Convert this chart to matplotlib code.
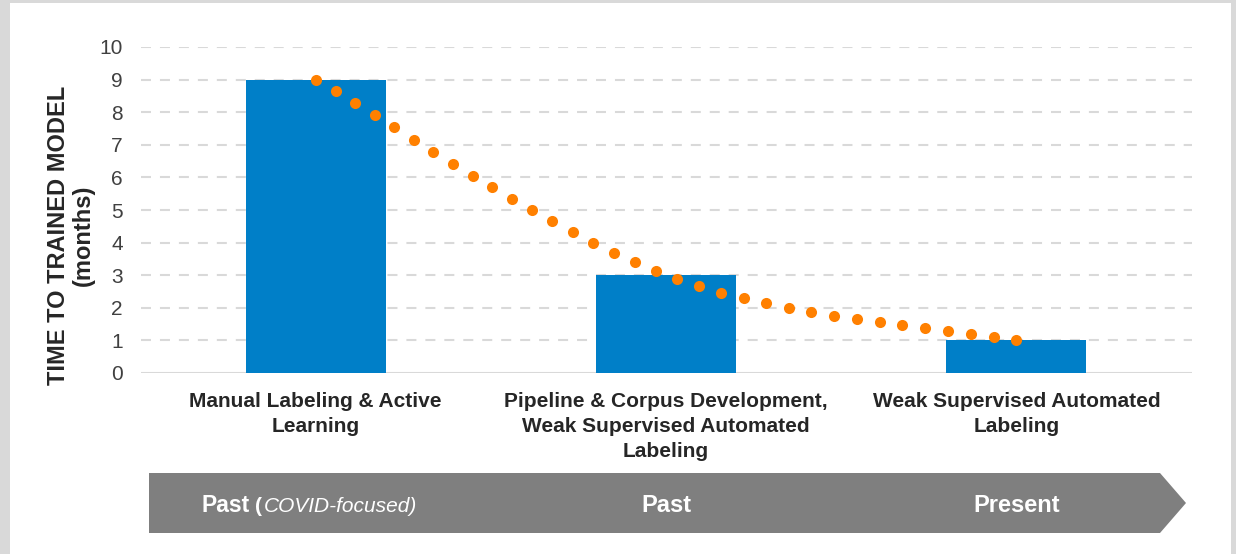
import numpy as np
import matplotlib.pyplot as plt
from matplotlib.patches import Polygon, Rectangle
from matplotlib.transforms import blended_transform_factory

plt.rcParams['font.family'] = ['Liberation Sans', 'DejaVu Sans']

stages = ["Manual Labeling & Active\nLearning",
          "Pipeline & Corpus Development,\nWeak Supervised Automated\nLabeling",
          "Weak Supervised Automated\nLabeling"]
months = [9, 3, 1]
eras = ["Past", "Past", "Present"]
era_note = "COVID-focused)"

W, H = 1236, 554
GRID = '#D9D9D9'


def smooth_line(xv, yv, steps=200):
    # Catmull-Rom style bezier through the points (Excel "smoothed line")
    P = np.column_stack([xv, yv]).astype(float)
    Pext = np.vstack([P[0], P, P[-1]])
    t = np.linspace(0, 1, steps)[:, None]
    out = []
    for i in range(len(P) - 1):
        p0, p3 = P[i], P[i + 1]
        c1 = p0 + (Pext[i + 2] - Pext[i]) / 6
        c2 = p3 - (Pext[i + 3] - Pext[i + 1]) / 6
        seg = ((1 - t) ** 3 * p0 + 3 * (1 - t) ** 2 * t * c1
               + 3 * (1 - t) * t ** 2 * c2 + t ** 3 * p3)
        out.append(seg if i == 0 else seg[1:])
    return np.vstack(out)


fig = plt.figure(figsize=(W / 100, H / 100), dpi=100, facecolor=GRID)
# white panel inside the grey frame
fig.patches.append(Rectangle((10 / W, 0), 1221 / W, 1 - 3 / H,
                             transform=fig.transFigure, facecolor='white',
                             edgecolor='none', zorder=0))
# timeline arrow below the categories
arrow = [(149, 473), (1160, 473), (1186, 503), (1160, 533), (149, 533)]
fig.patches.append(Polygon([(px / W, 1 - py / H) for px, py in arrow],
                           closed=True, transform=fig.transFigure,
                           facecolor='#7F7F7F', edgecolor='none', zorder=0.5))

ax = fig.add_axes([140.5 / W, 1 - 373 / H, 1051 / W, 326 / H])
ax.set_zorder(2)
ax.set_facecolor('none')
ax.set_xlim(-0.5, 2.5)
ax.set_ylim(0, 10)

x = np.arange(len(months))
ax.bar(x, months, width=0.4, color='#007FC8', zorder=2)

# round dots spaced evenly along the smoothed line, in screen distance
curve = smooth_line(x, months)
disp = ax.transData.transform(curve)
arc = np.concatenate([[0], np.cumsum(np.hypot(*np.diff(disp, axis=0).T))])
n_dots = int(round(arc[-1] / 23.0)) + 1
s = np.linspace(0, arc[-1], n_dots)
dots = np.column_stack([np.interp(s, arc, disp[:, 0]), np.interp(s, arc, disp[:, 1])])
dots = ax.transData.inverted().transform(dots)
ax.plot(dots[:, 0], dots[:, 1], 'o', ms=8, color='#FF8000', mec='none', zorder=3)

ax.set_yticks(range(0, 11))
for v in range(1, 11):
    ax.axhline(v, color=GRID, lw=1.5, dashes=(4.8, 4.3), zorder=1)
ax.axhline(0, color=GRID, lw=1.5, zorder=1)
for sp in ax.spines.values():
    sp.set_visible(False)

ax.tick_params(axis='y', length=0, pad=12.6, labelsize=15, labelcolor='#404040')
ax.tick_params(axis='x', length=0, pad=14)
ax.set_xticks(x, stages, fontsize=15, fontweight='bold', color='#262626',
              linespacing=1.4)

fig.text(71 / W, 1 - 235 / H, "TIME TO TRAINED MODEL\n(months)", rotation=90,
         ha='center', va='center', fontsize=17, fontweight='bold',
         color='#262626', linespacing=1.1)

trans = blended_transform_factory(ax.transData, fig.transFigure)
base = 1 - 511.5 / H
banner = dict(xycoords=trans, textcoords='offset points', va='baseline',
              color='white', annotation_clip=False)
ax.annotate(eras[0], xy=(x[0], base), xytext=(-47.5, 0), ha='right',
            fontsize=16.5, fontweight='bold', **banner)
ax.annotate("(", xy=(x[0], base), xytext=(-43.5, 0), ha='left',
            fontsize=15, fontweight='bold', **banner)
ax.annotate(era_note, xy=(x[0], base), xytext=(-37.5, 0), ha='left',
            fontsize=15, fontstyle='italic', **banner)
for xi, label in zip(x[1:], eras[1:]):
    ax.text(xi, base, label, transform=trans, ha='center', va='baseline',
            fontsize=17, fontweight='bold', color='white')

fig.savefig('out.png', dpi=100, facecolor=fig.get_facecolor())
